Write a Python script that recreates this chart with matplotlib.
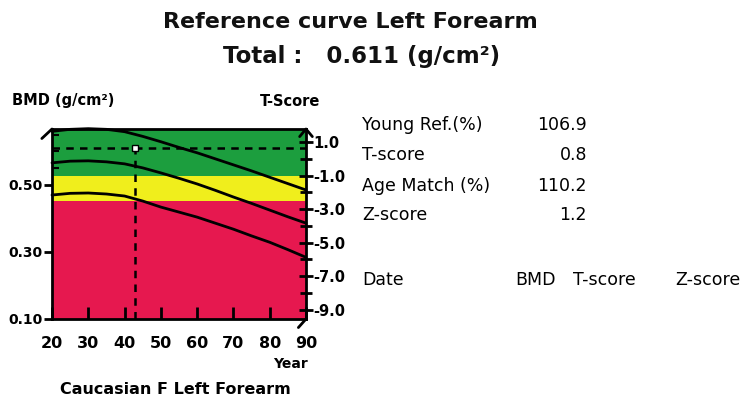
import matplotlib.pyplot as plt
from matplotlib.ticker import FixedLocator

W, H = 741, 399

# reference curves (age-matched)
ages = [20, 25, 30, 35, 40, 45, 50, 55, 60, 65, 70, 75, 80, 85, 90]
upper = [0.660, 0.666, 0.668, 0.666, 0.659, 0.645, 0.629, 0.612, 0.596, 0.578, 0.560, 0.542, 0.523, 0.504, 0.485]
middle = [0.566, 0.571, 0.572, 0.569, 0.563, 0.551, 0.536, 0.520, 0.503, 0.484, 0.464, 0.445, 0.425, 0.405, 0.386]
lower = [0.470, 0.475, 0.476, 0.473, 0.467, 0.452, 0.434, 0.419, 0.404, 0.386, 0.368, 0.348, 0.329, 0.307, 0.284]

patient_age = 43
patient_bmd = 0.611

young_mean = 0.578
young_sd = 0.05
t_osteopenia = -1.0
t_osteoporosis = -2.5

bmd_ticks = [0.10, 0.30, 0.50]
x_ticks = [20, 30, 40, 50, 60, 70, 80, 90]
t_ticks = [1.0, -1.0, -3.0, -5.0, -7.0, -9.0]
t_minor = [0.0, -2.0, -4.0, -6.0, -8.0]

stats_labels = ["Young Ref.(%)", "T-score", "Age Match (%)", "Z-score"]
stats_values = ["106.9", "0.8", "110.2", "1.2"]


def t_to_bmd(t):
    return young_mean + t * young_sd


fig = plt.figure(figsize=(W / 100, H / 100), dpi=100)
ax = fig.add_axes([52 / W, 1 - 319 / H, 254 / W, 190 / H])

ymin, ymax = 0.10, 0.667
ax.set_xlim(20, 90)
ax.set_ylim(ymin, ymax)

green = "#1c9e3e"
yellow = "#f0ee1c"
red = "#e6184f"
ax.axhspan(t_to_bmd(t_osteopenia), ymax, color=green, lw=0)
ax.axhspan(t_to_bmd(t_osteoporosis), t_to_bmd(t_osteopenia), color=yellow, lw=0)
ax.axhspan(ymin, t_to_bmd(t_osteoporosis), color=red, lw=0)

for curve in (upper, middle, lower):
    ax.plot(ages, curve, color="black", lw=2, solid_capstyle="round", clip_on=False)

ax.plot([20, 90], [patient_bmd, patient_bmd], color="black", lw=1.8, ls=(0, (3, 2.5)))
ax.plot([patient_age, patient_age], [ymin, patient_bmd], color="black", lw=1.8, ls=(0, (3, 2.5)))
ax.plot([patient_age], [patient_bmd], marker="s", ms=5, mfc="white", mec="black", mew=1, zorder=5)

for s in ax.spines.values():
    s.set_linewidth(2)

ax.set_xticks(x_ticks)
ax.set_xticklabels([str(v) for v in x_ticks], fontsize=11.5, fontweight="bold")
ax.tick_params(axis="x", direction="in", length=9, width=2, pad=12)
ax.set_yticks(bmd_ticks)
ax.set_yticklabels(["%.2f" % v for v in bmd_ticks], fontsize=10, fontweight="bold")
ax.tick_params(axis="y", direction="out", length=6, width=2, pad=1)
ax.yaxis.set_minor_locator(FixedLocator([0.55, 0.60, 0.65]))
ax.tick_params(axis="y", which="minor", direction="in", length=5, width=1.5)

# T-score scale on the right
ax2 = ax.twinx()
ax2.set_ylim(ymin, ymax)
ax2.set_yticks([t_to_bmd(t) for t in t_ticks])
ax2.set_yticklabels(["%.1f" % t for t in t_ticks], fontsize=10.5, fontweight="bold")
ax2.yaxis.set_minor_locator(FixedLocator([t_to_bmd(t) for t in t_minor]))
ax2.tick_params(axis="y", which="major", direction="inout", length=10, width=2, pad=0)
ax2.tick_params(axis="y", which="minor", direction="inout", length=8, width=2)
for s in ax2.spines.values():
    s.set_visible(False)

# little arrow heads at the axis ends
kw = dict(color="black", lw=2, transform=ax.transAxes, clip_on=False, solid_capstyle="round")
ax.plot([-0.04, 0.0], [0.95, 1.0], **kw)
ax.plot([0.975, 1.0, 1.025], [0.96, 1.0, 0.96], **kw)
ax.plot([0.97, 1.0], [-0.045, 0.0], **kw)

fig.text(350 / W, 1 - 22 / H, "Reference curve Left Forearm", ha="center", va="center",
         fontsize=16, fontweight="bold", color="#111111")
fig.text(362 / W, 1 - 57 / H, "Total :   0.611 (g/cm²)", ha="center", va="center",
         fontsize=16.5, fontweight="bold", color="#111111")

fig.text(12 / W, 1 - 101 / H, "BMD (g/cm²)", ha="left", va="center", fontsize=10.5, fontweight="bold")
fig.text(320 / W, 1 - 101 / H, "T-Score", ha="right", va="center", fontsize=10.5, fontweight="bold")
fig.text(290 / W, 1 - 364 / H, "Year", ha="center", va="center", fontsize=10, fontweight="bold")
fig.text(175 / W, 1 - 389 / H, "Caucasian F Left Forearm", ha="center", va="center",
         fontsize=11.5, fontweight="bold")

row_y = [125, 155, 186, 215]
for lab, val, y in zip(stats_labels, stats_values, row_y):
    fig.text(362 / W, 1 - y / H, lab, ha="left", va="center", fontsize=12.5)
    fig.text(587 / W, 1 - y / H, val, ha="right", va="center", fontsize=12.5)

fig.text(362 / W, 1 - 280 / H, "Date", ha="left", va="center", fontsize=12.5)
fig.text(515 / W, 1 - 280 / H, "BMD", ha="left", va="center", fontsize=12.5)
fig.text(573 / W, 1 - 280 / H, "T-score", ha="left", va="center", fontsize=12.5)
fig.text(675 / W, 1 - 280 / H, "Z-score", ha="left", va="center", fontsize=12.5)

fig.savefig("out.png", dpi=100)
